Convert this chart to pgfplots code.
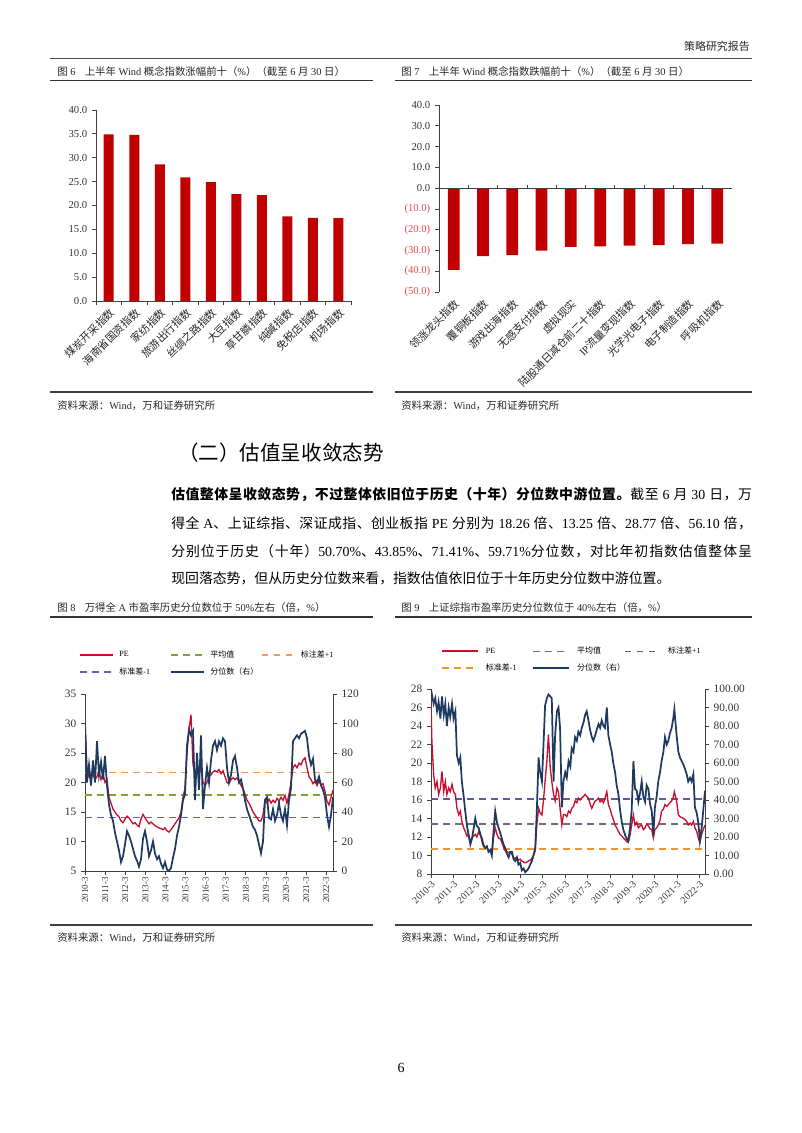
\documentclass[border=0pt]{standalone}
\usepackage{fontspec}
\setmainfont{Liberation Serif}
\newfontfamily\cjkfont{Noto Sans CJK SC}
\newfontfamily\latinfont{Liberation Serif}
\usepackage{pgfplots}
\pgfplotsset{compat=1.18}
\usepackage{pgfplotstable}

\XeTeXinterchartokenstate=1
\newXeTeXintercharclass\cjkclass
\makeatletter
\newcommand\setcjkrange[2]{%
  \count@=#1\relax
  \loop
    \XeTeXcharclass\count@=\cjkclass
    \advance\count@\@ne
  \ifnum\count@<#2\relax
  \repeat}
\makeatother
\setcjkrange{"3000}{"3040}
\setcjkrange{"4E00}{"A000}
\setcjkrange{"FF00}{"FFF0}
\XeTeXinterchartoks 0 \cjkclass = {\cjkfont}
\XeTeXinterchartoks 4095 \cjkclass = {\cjkfont}
\XeTeXinterchartoks \cjkclass 0 = {\latinfont}
\XeTeXinterchartoks \cjkclass 4095 = {\latinfont}
\XeTeXinterchartoks \cjkclass \cjkclass = {\hskip 0pt plus 0.12em minus 0.03em\relax}

\definecolor{barred}{HTML}{C00000}
\definecolor{negred}{HTML}{E8484F}
\definecolor{pered}{HTML}{C8102E}
\definecolor{navy}{HTML}{1F3A60}
\definecolor{avggreen}{HTML}{7FA33A}
\definecolor{sdorange}{HTML}{EE9A5A}
\definecolor{sdpurple}{HTML}{6A5ACD}
\definecolor{avggrey}{HTML}{6E6E80}
\definecolor{sdslate}{HTML}{5E5A9A}
\definecolor{sdorangeb}{HTML}{F0962E}

\newcommand\ttl{\fontsize{7.8}{9}\selectfont}

\pgfplotstableread{
k pe pct
0 30.5 100
1 22 60
2 21 72
3 20.5 58
4 21.5 75
5 20.5 60
6 21 88
7 22 65
8 20.5 74
9 21.5 62
10 20 78
11 20.5 58
12 17.5 45
13 16.5 38
14 15.5 34
15 15 26
16 14.5 20
17 14.2 14
18 13.5 6
19 13.2 10
20 13.8 18
21 14.3 27
22 14 24
23 13.5 20
24 13 15
25 13.2 10
26 12.8 7
27 12.5 3
28 13.8 8
29 14.6 22
30 14 27
31 13.5 20
32 13 10
33 13.3 14
34 13 20
35 12.7 12
36 12.5 8
37 12.3 10
38 12.2 5
39 12 2
40 12.3 6
41 11.8 1
42 11.6 0
43 12 2
44 12.5 9
45 13 15
46 13.5 24
47 14 30
48 15 38
49 17.5 48
50 19 52
51 25 85
52 29 96
53 31.5 92
54 23 95
55 21.5 48
56 22 80
57 21 55
58 23 92
59 20 42
60 19.5 58
61 20 70
62 21 60
63 21.3 75
64 21.8 85
65 22 88
66 21.8 82
67 22.2 88
68 21.5 85
69 22 90
70 21 88
71 20 70
72 19.8 60
73 20.5 65
74 20.8 75
75 20.5 78
76 20.8 70
77 20.2 60
78 19.5 62
79 19 56
80 18 48
81 17 42
82 16.5 38
83 15.8 34
84 15 30
85 14.5 28
86 14 24
87 13.5 18
88 13.5 12
89 14.5 20
90 17 48
91 16.5 50
92 17.2 36
93 16.5 35
94 17 42
95 16.6 34
96 17.3 38
97 16.8 46
98 17.5 38
99 17 34
100 17.8 42
101 16.5 31
102 18 48
103 20 56
104 22.5 88
105 23 90
106 22.5 92
107 23.3 90
108 23 93
109 23.8 94
110 24.2 95
111 22.5 90
112 21 78
113 20.5 72
114 19.8 76
115 20.2 62
116 19.5 60
117 20.3 64
118 19.6 58
119 19.8 55
120 18.5 50
121 16.8 38
122 16.2 30
123 17.5 38
124 18.7 50
}\tabA

\pgfplotstableread{
t pe pct
0.00 26.7 100
0.04 22.3 97
0.12 18.7 92
0.19 17.3 95
0.27 18.0 88
0.34 16.6 93
0.42 17.3 84
0.49 19.1 96
0.57 16.9 86
0.64 18.0 92
0.71 16.6 80
0.79 17.3 90
0.86 16.9 85
0.94 17.7 92
1.01 16.9 84
1.09 16.6 88
1.16 15.1 64
1.24 14.4 60
1.31 14.8 63
1.38 13.7 50
1.46 13.0 42
1.53 12.6 34
1.61 12.1 26
1.68 12.3 21
1.76 11.5 16
1.83 11.9 19
1.98 12.3 30
2.05 12.0 26
2.13 12.6 25
2.20 12.2 22
2.28 11.9 18
2.35 11.2 15
2.43 10.8 14
2.50 10.9 15
2.57 10.5 12
2.65 10.6 13
2.72 10.5 10
2.80 12.0 24
2.87 13.0 34
2.95 12.3 28
3.02 11.9 25
3.10 11.8 22
3.17 11.4 19
3.24 10.9 16
3.32 10.5 14
3.39 10.4 11
3.47 10.3 9
3.54 10.4 12
3.62 10.1 12
3.69 9.8 8
3.76 9.7 7
3.84 9.8 9
3.91 9.5 5
3.99 9.6 6
4.06 9.4 2
4.14 9.3 3
4.21 9.2 1
4.29 9.3 2
4.36 9.4 3
4.43 9.5 5
4.51 9.7 7
4.58 10.0 10
4.66 10.5 14
4.73 13.3 34
4.81 15.1 63
4.88 14.6 55
4.96 14.4 50
5.03 16.0 70
5.10 18.0 91
5.18 20.2 95
5.25 23.1 97
5.33 19.5 96
5.40 18.0 95
5.48 16.6 50
5.55 15.9 75
5.63 17.3 88
5.70 16.9 90
5.77 15.1 79
5.85 13.3 36
5.92 14.4 50
6.00 14.4 55
6.07 14.2 52
6.15 14.8 61
6.23 14.6 58
6.29 15.1 68
6.37 15.3 66
6.44 15.9 74
6.52 15.7 72
6.59 16.2 77
6.67 16.0 75
6.74 16.2 79
6.82 16.4 82
6.89 16.6 86
6.96 16.4 88
7.04 16.2 83
7.11 15.6 78
7.19 15.1 74
7.26 15.5 72
7.34 15.9 75
7.41 16.0 78
7.49 16.2 81
7.56 15.8 79
7.63 16.0 83
7.71 15.7 80
7.78 16.2 79
7.86 16.9 90
7.93 15.5 75
8.01 15.0 70
8.08 14.4 66
8.15 13.9 60
8.23 13.3 55
8.30 13.0 48
8.38 12.6 43
8.45 12.3 35
8.53 12.1 28
8.60 11.9 24
8.68 11.7 21
8.75 11.5 19
8.82 11.4 18
8.90 12.2 25
8.97 13.3 34
9.05 14.4 61
9.12 13.3 46
9.20 13.6 45
9.27 13.0 39
9.35 13.2 44
9.42 13.3 50
9.49 12.8 42
9.57 13.0 39
9.64 13.4 48
9.72 13.2 46
9.79 12.9 38
9.87 12.8 34
9.94 11.9 21
10.01 12.8 36
10.09 13.0 42
10.16 13.3 50
10.24 13.8 55
10.31 14.8 61
10.39 15.0 66
10.46 15.5 74
10.54 15.3 70
10.61 15.5 72
10.68 15.7 76
10.76 15.9 79
10.83 16.3 84
10.88 16.9 89
10.98 15.9 75
11.06 14.4 66
11.13 14.2 63
11.21 14.1 61
11.29 14.0 59
11.35 13.9 57
11.43 13.7 54
11.50 13.3 50
11.58 13.5 52
11.65 13.3 50
11.73 13.7 54
11.80 13.0 36
11.88 12.6 33
11.95 11.9 28
12.02 11.4 18
12.10 12.3 25
12.17 12.8 34
12.25 13.3 45
}\tabB

\pgfplotsset{
  base/.style={scale only axis, anchor=south west,
    axis line style={draw=black!75, line width=0.6pt},
    tick style={black!75, line width=0.6pt},
    tick align=outside, major tick length=3pt,
    ticklabel style={text=black!80},
    /pgf/number format/assume math mode=true},
}

\begin{document}
\begin{tikzpicture}
\begin{scope}[x=0.75pt,y=-0.75pt]
\path (0,0) rectangle (802,1133);
\coordinate (a6) at (96,301);
\coordinate (a7) at (439,292);
\coordinate (a8) at (85,871);
\coordinate (a9) at (431,874);
% header
\node[anchor=east, inner sep=0, font=\fontsize{8.2}{9}\selectfont, text=black!85] at (750,46) {策略研究报告};
\draw[line width=0.7pt, black!70] (50,58) -- (752,58);
% figure titles top
\node[anchor=west, inner sep=0, font=\ttl, text=black!85] at (57,72) {图 6\hspace{7pt}上半年 Wind 概念指数涨幅前十（\%）（截至 6 月 30 日）};
\node[anchor=west, inner sep=0, font=\ttl, text=black!85] at (401,72) {图 7\hspace{7pt}上半年 Wind 概念指数跌幅前十（\%）（截至 6 月 30 日）};
\draw[line width=1pt, black!80] (50,80.5) -- (373,80.5);
\draw[line width=1pt, black!80] (395,80.5) -- (752,80.5);
% sources top
\draw[line width=0.8pt, black!75] (50,392) -- (373,392);
\draw[line width=0.8pt, black!75] (395,392) -- (752,392);
\node[anchor=west, inner sep=0, font=\ttl, text=black!85] at (57,406) {资料来源：Wind，万和证券研究所};
\node[anchor=west, inner sep=0, font=\ttl, text=black!85] at (401,406) {资料来源：Wind，万和证券研究所};
% heading
\node[anchor=west, inner sep=0, font=\fontsize{15.4}{17}\selectfont] at (178,453) {（二）估值呈收敛态势};
% paragraph
\node[anchor=west, inner sep=0, font=\fontsize{10.4}{12}\selectfont\cjkfont] at (171,495) {\hbox to 435.5pt{\textbf{估值整体呈收敛态势，不过整体依旧位于历史（十年）分位数中游位置。}截至 6 月 30 日，万}};
\node[anchor=west, inner sep=0, font=\fontsize{10.4}{12}\selectfont\cjkfont] at (171,523) {\hbox to 435.5pt{得全 A、上证综指、深证成指、创业板指 PE 分别为 18.26 倍、13.25 倍、28.77 倍、56.10 倍，}};
\node[anchor=west, inner sep=0, font=\fontsize{10.4}{12}\selectfont\cjkfont] at (171,551) {\hbox to 435.5pt{分别位于历史（十年）50.70\%、43.85\%、71.41\%、59.71\%分位数，对比年初指数估值整体呈}};
\node[anchor=west, inner sep=0, font=\fontsize{10.4}{12}\selectfont\cjkfont] at (171,578) {现回落态势，但从历史分位数来看，指数估值依旧位于十年历史分位数中游位置。};
% figure titles bottom
\node[anchor=west, inner sep=0, font=\ttl, text=black!85] at (57,608) {图 8\hspace{7pt}万得全 A 市盈率历史分位数位于 50\%左右（倍，\%）};
\node[anchor=west, inner sep=0, font=\ttl, text=black!85] at (401,608) {图 9\hspace{7pt}上证综指市盈率历史分位数位于 40\%左右（倍，\%）};
\draw[line width=1pt, black!80] (50,617) -- (373,617);
\draw[line width=1pt, black!80] (395,617) -- (752,617);
% sources bottom
\draw[line width=0.8pt, black!75] (50,925) -- (373,925);
\draw[line width=0.8pt, black!75] (395,925) -- (752,925);
\node[anchor=west, inner sep=0, font=\ttl, text=black!85] at (57,938) {资料来源：Wind，万和证券研究所};
\node[anchor=west, inner sep=0, font=\ttl, text=black!85] at (401,938) {资料来源：Wind，万和证券研究所};
% page number
\node[inner sep=0, font=\fontsize{10.5}{12}\selectfont] at (401,1068) {6};
\end{scope}

% ---------- Figure 6 ----------
\begin{axis}[base, at={(a6)}, width=191.25pt, height=143.25pt,
  xmin=-0.5, xmax=9.5, ymin=0, ymax=40,
  axis x line*=bottom, axis y line*=left,
  ytick={0,5,...,40},
  yticklabel style={font=\fontsize{8}{9}\selectfont, /pgf/number format/fixed, /pgf/number format/fixed zerofill, /pgf/number format/precision=1},
  xtick={0,...,9},
  xticklabels={煤炭开采指数,海南省国资指数,家纺指数,旅游出行指数,丝绸之路指数,大豆指数,草甘膦指数,纯碱指数,免税店指数,机场指数},
  major x tick style={draw=none},
  minor xtick={-0.5,0.5,...,9.5},
  minor x tick style={black!75, line width=0.6pt}, minor tick length=3pt,
  xticklabel style={rotate=45, anchor=north east, font=\fontsize{8}{9}\selectfont, inner sep=1pt, text=black!85},
]
\addplot[ybar, bar width=7.5pt, fill=barred, draw=none] coordinates {(0,34.9) (1,34.8) (2,28.6) (3,25.9) (4,24.9) (5,22.4) (6,22.2) (7,17.7) (8,17.4) (9,17.35)};
\end{axis}

% ---------- Figure 7 ----------
\begin{axis}[base, at={(a7)}, width=219.75pt, height=140.25pt,
  xmin=-0.5, xmax=9.5, ymin=-50, ymax=40,
  axis x line*=bottom, axis y line*=left, x axis line style={draw=none},
  ytick={-50,-40,...,40},
  yticklabels={\textcolor{negred}{(50.0)},\textcolor{negred}{(40.0)},\textcolor{negred}{(30.0)},\textcolor{negred}{(20.0)},\textcolor{negred}{(10.0)},0.0,10.0,20.0,30.0,40.0},
  yticklabel style={font=\fontsize{8}{9}\selectfont},
  xtick={0,...,9},
  xticklabels={领涨龙头指数,覆铜板指数,游戏出海指数,无感支付指数,虚拟现实,陆股通日减仓前二十指数,IP流量变现指数,光学光电子指数,电子制造指数,呼吸机指数},
  major x tick style={draw=none},
  xticklabel style={rotate=45, anchor=north east, font=\fontsize{8}{9}\selectfont, inner sep=1pt, text=black!85},
]
\addplot[ybar, bar width=8.8pt, fill=barred, draw=none] coordinates {(0,-39.4) (1,-32.7) (2,-32.3) (3,-30.1) (4,-28.3) (5,-28.0) (6,-27.7) (7,-27.4) (8,-26.9) (9,-26.7)};
\draw[black!75, line width=0.6pt] (axis cs:-0.5,0) -- (axis cs:9.5,0);
\pgfplotsinvokeforeach{-0.5,0.5,1.5,2.5,3.5,4.5,5.5,6.5,7.5,8.5,9.5}{
  \draw[black!75, line width=0.6pt] (axis cs:#1,0) -- ([yshift=2.5pt]axis cs:#1,0);
}
\end{axis}

% ---------- Figure 8 ----------
\begin{axis}[base, at={(a8)}, width=186pt, height=132.75pt,
  xmin=0, xmax=124, ymin=5, ymax=35,
  axis x line*=bottom, axis y line*=left,
  ytick={5,10,...,35},
  yticklabel style={font=\fontsize{8.5}{9}\selectfont},
  xtick={0,10.05,20.1,30.15,40.2,50.25,60.3,70.35,80.4,90.45,100.5,110.55,120.6},
  xticklabels={2010-3,2011-3,2012-3,2013-3,2014-3,2015-3,2016-3,2017-3,2018-3,2019-3,2020-3,2021-3,2022-3},
  xticklabel style={rotate=90, anchor=east, font=\fontsize{6.8}{7}\selectfont, inner sep=1.5pt},
]
\addplot[sdorange, line width=1pt, dash pattern=on 5pt off 4pt] coordinates {(0,21.7) (124,21.7)};
\addplot[avggreen, line width=1.4pt, dash pattern=on 5pt off 4pt] coordinates {(0,17.9) (124,17.9)};
\addplot[sdpurple, line width=1pt, dash pattern=on 5pt off 4pt] coordinates {(0,14.1) (124,14.1)};
\addplot[pered, line width=1pt] table[x=k, y=pe] {\tabA};
\end{axis}
\begin{axis}[base, at={(a8)}, width=186pt, height=132.75pt,
  xmin=0, xmax=124, ymin=0, ymax=120,
  axis y line*=right, axis x line=none,
  ytick={0,20,...,120},
  yticklabel style={font=\fontsize{8.5}{9}\selectfont},
  legend style={at={(-0.04,1.27)}, anchor=north west, draw=none, fill=none,
    font=\fontsize{6}{7}\selectfont, legend columns=3, row sep=4pt,
    nodes={inner sep=1pt}},
  legend cell align=left,
  legend image code/.code={\draw[#1] (0pt,0pt) -- (24.75pt,0pt);},
]
\addlegendimage{pered, line width=1.3pt}
\addlegendentry{\makebox[40pt][l]{\hspace{3pt}PE}}
\addlegendimage{avggreen, line width=1.4pt, dash pattern=on 5pt off 4pt}
\addlegendentry{\makebox[40pt][l]{\hspace{3pt}平均值}}
\addlegendimage{sdorange, line width=1.2pt, dash pattern=on 5pt off 4pt}
\addlegendentry{\makebox[40pt][l]{\hspace{3pt}标注差+1}}
\addlegendimage{sdpurple, line width=1.3pt, dash pattern=on 5pt off 4pt}
\addlegendentry{\makebox[40pt][l]{\hspace{3pt}标准差-1}}
\addplot[navy, line width=1.3pt] table[x=k, y=pct] {\tabA};
\addlegendentry{\makebox[40pt][l]{\hspace{3pt}分位数（右）}}
\end{axis}

% ---------- Figure 9 ----------
\begin{axis}[base, at={(a9)}, width=205.5pt, height=138.75pt,
  xmin=0, xmax=12.25, ymin=8, ymax=28,
  axis x line*=bottom, axis y line*=left,
  ytick={8,10,...,28},
  yticklabel style={font=\fontsize{8.5}{9}\selectfont},
  xtick={0,...,12},
  xticklabels={2010-3,2011-3,2012-3,2013-3,2014-3,2015-3,2016-3,2017-3,2018-3,2019-3,2020-3,2021-3,2022-3},
  xticklabel style={rotate=45, anchor=north east, font=\fontsize{7.3}{8}\selectfont, inner sep=1pt},
]
\addplot[sdslate, line width=1pt, dash pattern=on 5pt off 4pt] coordinates {(0,16.1) (12.25,16.1)};
\addplot[avggrey, line width=1pt, dash pattern=on 5pt off 4pt] coordinates {(0,13.4) (12.25,13.4)};
\addplot[sdorangeb, line width=1.4pt, dash pattern=on 5pt off 4pt] coordinates {(0,10.7) (12.25,10.7)};
\addplot[pered, line width=1pt] table[x=t, y=pe] {\tabB};
\end{axis}
\begin{axis}[base, at={(a9)}, width=205.5pt, height=138.75pt,
  xmin=0, xmax=12.25, ymin=0, ymax=100,
  axis y line*=right, axis x line=none,
  ytick={0,10,...,100},
  yticklabel style={font=\fontsize{8.5}{9}\selectfont, /pgf/number format/fixed, /pgf/number format/fixed zerofill, /pgf/number format/precision=2},
  legend style={at={(0.022,1.25)}, anchor=north west, draw=none, fill=none,
    font=\fontsize{6}{7}\selectfont, legend columns=3, row sep=4pt,
    nodes={inner sep=1pt}},
  legend cell align=left,
  legend image code/.code={\draw[#1] (0pt,0pt) -- (27pt,0pt);},
]
\addlegendimage{pered, line width=1.5pt}
\addlegendentry{\makebox[38pt][l]{\hspace{4pt}PE}}
\addlegendimage{avggrey, line width=1.3pt, dash pattern=on 5pt off 4pt}
\addlegendentry{\makebox[38pt][l]{\hspace{4pt}平均值}}
\addlegendimage{sdslate, line width=1.3pt, dash pattern=on 5pt off 4pt}
\addlegendentry{\makebox[38pt][l]{\hspace{4pt}标注差+1}}
\addlegendimage{sdorangeb, line width=1.4pt, dash pattern=on 5pt off 4pt}
\addlegendentry{\makebox[38pt][l]{\hspace{4pt}标准差-1}}
\addplot[navy, line width=1.3pt] table[x=t, y=pct] {\tabB};
\addlegendentry{\makebox[38pt][l]{\hspace{4pt}分位数（右）}}
\end{axis}
\end{tikzpicture}
\end{document}
